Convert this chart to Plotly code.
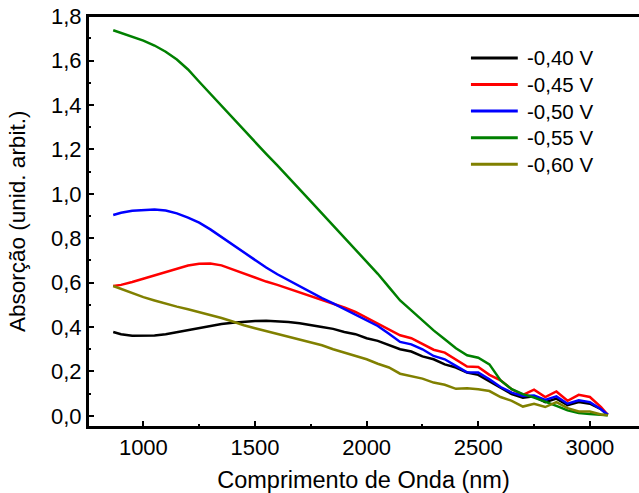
import plotly.graph_objects as go

wavelength = [865, 900, 950, 1000, 1050, 1100, 1150, 1200, 1250, 1300, 1350, 1400,
              1450, 1500, 1550, 1600, 1650, 1700, 1750, 1800, 1850, 1900, 1950, 2000,
              2050, 2100, 2150, 2200, 2250, 2300, 2350, 2400, 2450, 2500, 2550, 2600,
              2650, 2700, 2750, 2800, 2850, 2900, 2950, 3000, 3050, 3080]

abs_040 = [0.378, 0.368, 0.361, 0.360, 0.362, 0.368, 0.377, 0.388, 0.398, 0.407, 0.414, 0.420,
           0.424, 0.427, 0.428, 0.427, 0.423, 0.417, 0.410, 0.400, 0.392, 0.378, 0.368, 0.350,
           0.338, 0.318, 0.300, 0.290, 0.268, 0.255, 0.232, 0.218, 0.195, 0.185, 0.155, 0.125,
           0.098, 0.082, 0.088, 0.062, 0.078, 0.048, 0.062, 0.055, 0.030, 0.005]

abs_045 = [0.585, 0.590, 0.603, 0.618, 0.634, 0.650, 0.665, 0.677, 0.685, 0.686, 0.678, 0.660,
           0.640, 0.622, 0.605, 0.590, 0.573, 0.558, 0.540, 0.524, 0.505, 0.488, 0.468, 0.442,
           0.415, 0.390, 0.363, 0.350, 0.325, 0.298, 0.285, 0.255, 0.222, 0.220, 0.185, 0.160,
           0.120, 0.095, 0.118, 0.085, 0.110, 0.068, 0.095, 0.085, 0.040, 0.005]

abs_050 = [0.905, 0.915, 0.924, 0.928, 0.929, 0.925, 0.912, 0.893, 0.870, 0.840, 0.805, 0.770,
           0.735, 0.700, 0.668, 0.638, 0.610, 0.584, 0.556, 0.530, 0.507, 0.482, 0.458, 0.432,
           0.405, 0.370, 0.333, 0.322, 0.300, 0.270, 0.255, 0.225, 0.196, 0.195, 0.165, 0.130,
           0.105, 0.090, 0.092, 0.072, 0.088, 0.055, 0.070, 0.062, 0.030, 0.005]

abs_055 = [1.737, 1.725, 1.708, 1.690, 1.668, 1.640, 1.605, 1.560, 1.505, 1.450, 1.395, 1.340,
           1.287, 1.235, 1.180, 1.128, 1.072, 1.020, 0.966, 0.912, 0.858, 0.805, 0.750, 0.697,
           0.640, 0.580, 0.520, 0.475, 0.428, 0.385, 0.345, 0.305, 0.273, 0.262, 0.232, 0.160,
           0.120, 0.098, 0.083, 0.065, 0.045, 0.025, 0.013, 0.008, 0.004, 0.003]

abs_060 = [0.585, 0.572, 0.553, 0.535, 0.520, 0.505, 0.492, 0.480, 0.468, 0.455, 0.441, 0.425,
           0.408, 0.395, 0.382, 0.368, 0.355, 0.342, 0.330, 0.318, 0.300, 0.285, 0.272, 0.255,
           0.235, 0.218, 0.190, 0.178, 0.168, 0.150, 0.140, 0.122, 0.125, 0.120, 0.112, 0.085,
           0.068, 0.042, 0.055, 0.040, 0.062, 0.035, 0.020, 0.020, 0.006, 0.003]

series_names = ["-0,40 V", "-0,45 V", "-0,50 V", "-0,55 V", "-0,60 V"]
series_values = [abs_040, abs_045, abs_050, abs_055, abs_060]
series_colors = ["#000000", "#FF0000", "#0000FF", "#008000", "#808000"]

x_title = "Comprimento de Onda (nm)"
y_title = "Absorção (unid. arbit.)"

FONT = "Liberation Sans, Arial, sans-serif"

fig = go.Figure()
for name, vals, col in zip(series_names, series_values, series_colors):
    fig.add_trace(go.Scatter(x=wavelength, y=vals, mode="lines", name=name,
                             line=dict(color=col, width=2.5), showlegend=False))

axis_common = dict(
    showline=True, linecolor="#000000", linewidth=2, mirror=True,
    ticks="inside", ticklen=6, tickwidth=2, tickcolor="#000000",
    showgrid=False, zeroline=False, automargin=False,
    tickfont=dict(family=FONT, size=22, color="black"),
)

# Manual legend (paper coordinates)
legend_shapes = []
legend_annots = []
leg_y0, leg_step = 0.898, 0.0647
for i, (name, col) in enumerate(zip(series_names, series_colors)):
    yy = leg_y0 - i * leg_step
    legend_shapes.append(dict(type="line", xref="paper", yref="paper",
                              x0=0.695, x1=0.780, y0=yy, y1=yy,
                              line=dict(color=col, width=3)))
    legend_annots.append(dict(xref="paper", yref="paper", x=0.793, y=yy,
                              xanchor="left", yanchor="middle", showarrow=False,
                              text=name, font=dict(family=FONT, size=20.5, color="black")))

# y-axis title as rotated annotation for exact placement
ytitle_annot = dict(xref="paper", yref="paper", x=-0.128, y=0.5,
                    xanchor="center", yanchor="middle", showarrow=False,
                    textangle=-90, text=y_title,
                    font=dict(family=FONT, size=22.5, color="black"))

# plot frame drawn as paper-coordinate line shapes
frame = [
    dict(type="line", xref="paper", yref="paper", x0=0, x1=1, y0=1, y1=1,
         line=dict(color="#000000", width=2)),
    dict(type="line", xref="paper", yref="paper", x0=0, x1=1, y0=0, y1=0,
         line=dict(color="#000000", width=2)),
    dict(type="line", xref="paper", yref="paper", x0=0, x1=0, y0=0, y1=1,
         line=dict(color="#000000", width=2)),
]

fig.update_layout(
    width=639, height=493,
    margin=dict(l=88, r=0, t=16, b=66),
    paper_bgcolor="white", plot_bgcolor="white",
    separators=",.",
    font=dict(family=FONT, color="black"),
    showlegend=False,
    shapes=legend_shapes + frame,
    annotations=legend_annots + [ytitle_annot],
    xaxis=dict(range=[752, 3220], tick0=1000, dtick=500,
               minor=dict(dtick=250, ticks="inside", ticklen=3, tickwidth=2, tickcolor="#000000"),
               title=dict(text=x_title, font=dict(family=FONT, size=23.5), standoff=13),
               **axis_common),
    yaxis=dict(range=[-0.05, 1.801], tick0=0, dtick=0.2, tickformat=".1f",
               minor=dict(dtick=0.1, ticks="inside", ticklen=3, tickwidth=2, tickcolor="#000000"),
               **axis_common),
)

fig.write_html("out.html", config={"displayModeBar": False},
               post_script="document.body.style.margin='0';")
